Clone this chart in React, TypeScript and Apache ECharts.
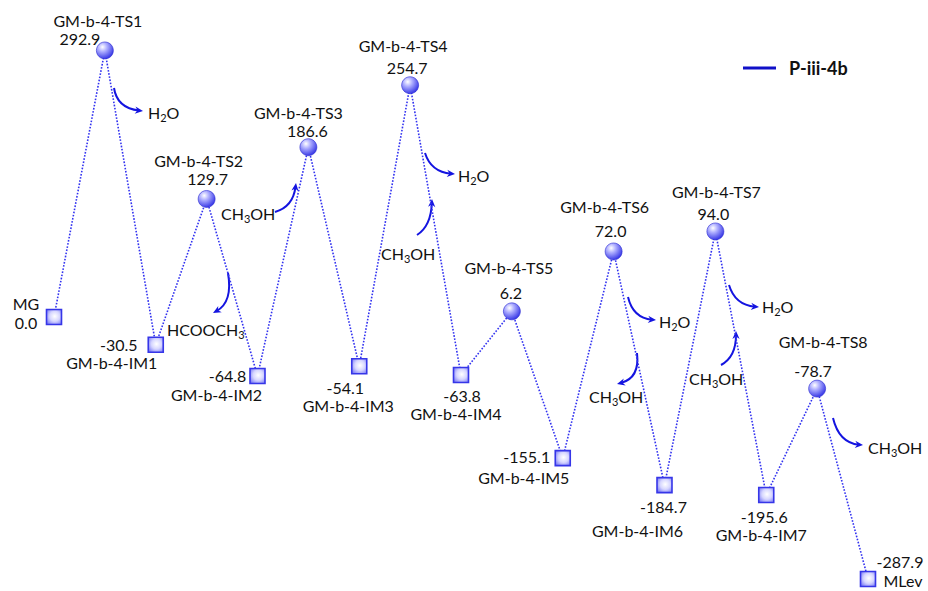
import React, { useEffect, useRef } from "react";
import * as echarts from "echarts";

// Stationary points along the P-iii-4b pathway (kJ/mol)
const stateNames = [
  "MG", "GM-b-4-TS1", "GM-b-4-IM1", "GM-b-4-TS2", "GM-b-4-IM2", "GM-b-4-TS3",
  "GM-b-4-IM3", "GM-b-4-TS4", "GM-b-4-IM4", "GM-b-4-TS5", "GM-b-4-IM5",
  "GM-b-4-TS6", "GM-b-4-IM6", "GM-b-4-TS7", "GM-b-4-IM7", "GM-b-4-TS8", "MLev",
];
const energies = [
  0.0, 292.9, -30.5, 129.7, -64.8, 186.6, -54.1, 254.7, -63.8, 6.2, -155.1,
  72.0, -184.7, 94.0, -195.6, -78.7, -287.9,
];
const seriesName = "P-iii-4b";

// label placement around each marker (px offsets)
const nameOffsets = [
  [-28, -14], [-7, -30], [-44, 18], [-8, -38], [-41, 19], [-10, -35],
  [-11, 39], [-7, -40], [-5, 38], [-3, -44], [-39, 19], [-9, -45],
  [-27, 45], [1, -40], [-5, 40], [6, -47], [35, 2],
];
const valueOffsets = [
  [-28, 5], [-25, -12], [-37, 0], [1, -20], [-30, 0], [-1, -17],
  [-14, 21], [-3, -18], [1, 20], [-1, -19], [-36, -2], [-3, -21],
  [-1, 21], [-2, -18], [-2, 22], [-4, -18], [32, -17],
];

// molecule formulas: [text, isSubscript]
const H2O: [string, boolean][] = [["H", false], ["2", true], ["O", false]];
const CH3OH: [string, boolean][] = [["CH", false], ["3", true], ["OH", false]];
const HCOOCH3: [string, boolean][] = [["HCOOCH", false], ["3", true]];

// released / added molecules with their curved arrows
const arrows = [
  { from: [114, 88], ctrl: [117, 108], to: [143, 111], formula: H2O, tx: 148, ty: 112 },
  { from: [228, 273], ctrl: [233, 302], to: [213, 313], formula: HCOOCH3, tx: 167, ty: 329 },
  { from: [275, 212], ctrl: [293, 207], to: [296, 183], formula: CH3OH, tx: 221, ty: 213 },
  { from: [425, 153], ctrl: [431, 172], to: [455, 174], formula: H2O, tx: 458, ty: 175 },
  { from: [417, 235], ctrl: [431, 226], to: [432, 199], formula: CH3OH, tx: 381, ty: 253 },
  { from: [628, 297], ctrl: [633, 318], to: [656, 320], formula: H2O, tx: 659, ty: 321 },
  { from: [637, 353], ctrl: [640, 378], to: [617, 384], formula: CH3OH, tx: 589, ty: 396 },
  { from: [729, 285], ctrl: [735, 305], to: [759, 307], formula: H2O, tx: 762, ty: 306 },
  { from: [721, 365], ctrl: [736, 357], to: [736, 331], formula: CH3OH, tx: 689, ty: 378 },
  { from: [833, 418], ctrl: [839, 443], to: [863, 445], formula: CH3OH, tx: 868, ty: 447 },
];

const FONT = "Lato";
const MAIN_SIZE = 16;
const SUB_SIZE = 11;
const TEXT_COLOR = "#111111";
const ARROW_COLOR = "#1414e0";

const measureCtx = document.createElement("canvas").getContext("2d");
function textWidth(t: string, size: number) {
  if (!measureCtx) return t.length * size * 0.55;
  measureCtx.font = `${size}px ${FONT}`;
  return measureCtx.measureText(t).width;
}

function formulaGraphics(parts: [string, boolean][], x0: number, yc: number) {
  let x = x0;
  return parts.map(([t, sub]) => {
    const size = sub ? SUB_SIZE : MAIN_SIZE;
    const el = {
      type: "text",
      silent: true,
      x,
      y: sub ? yc + 5 : yc,
      style: {
        text: t,
        fontFamily: FONT,
        fontSize: size,
        fill: TEXT_COLOR,
        align: "left",
        verticalAlign: "middle",
      },
    };
    x += textWidth(t, size);
    return el;
  });
}

function arrowGraphics(a: (typeof arrows)[number]) {
  const [x1, y1] = a.from;
  const [cx, cy] = a.ctrl;
  const [x2, y2] = a.to;
  let dx = x2 - cx;
  let dy = y2 - cy;
  const len = Math.hypot(dx, dy) || 1;
  dx /= len;
  dy /= len;
  const px = -dy;
  const py = dx;
  const L = 8;
  const W = 3.6;
  const bx = x2 - dx * L;
  const by = y2 - dy * L;
  const nx = x2 - dx * (L - 2.5);
  const ny = y2 - dy * (L - 2.5);
  return [
    {
      type: "bezierCurve",
      silent: true,
      shape: { x1, y1, cpx1: cx, cpy1: cy, x2: x2 - dx * 4, y2: y2 - dy * 4 },
      style: { stroke: ARROW_COLOR, lineWidth: 2, fill: null },
    },
    {
      type: "polygon",
      silent: true,
      shape: {
        points: [
          [x2, y2],
          [bx + px * W, by + py * W],
          [nx, ny],
          [bx - px * W, by - py * W],
        ],
      },
      style: { fill: ARROW_COLOR },
    },
    ...formulaGraphics(a.formula, a.tx, a.ty),
  ];
}

const circleFill = {
  type: "radial",
  x: 0.36,
  y: 0.3,
  r: 0.75,
  colorStops: [
    { offset: 0, color: "#ffffff" },
    { offset: 0.35, color: "#b0b0ff" },
    { offset: 1, color: "#2e2ee4" },
  ],
};
const squareFill = {
  type: "radial",
  x: 0.55,
  y: 0.45,
  r: 0.75,
  colorStops: [
    { offset: 0, color: "#ffffff" },
    { offset: 0.45, color: "#d6d6ff" },
    { offset: 1, color: "#6464f4" },
  ],
};

export default function App() {
  const ref = useRef<HTMLDivElement>(null);

  useEffect(() => {
    if (!ref.current) return;
    const chart = echarts.init(ref.current, undefined, { renderer: "svg" });

    const isTS = (n: string) => n.includes("TS");

    const lineData = energies.map((v, i) => {
      const ts = isTS(stateNames[i]);
      return {
        value: [i, v],
        symbol: ts ? "circle" : "rect",
        symbolSize: ts ? 17 : 15,
        itemStyle: ts
          ? { color: circleFill, borderColor: "#2a2ad0", borderWidth: 0.6 }
          : { color: squareFill, borderColor: "#3636e8", borderWidth: 1.6 },
      };
    });

    const labelSeries = (kind: "name" | "value") => ({
      type: "scatter",
      silent: true,
      symbolSize: 0,
      z: 5,
      itemStyle: { opacity: 1 },
      data: energies.map((v, i) => {
        const off = kind === "name" ? nameOffsets[i] : valueOffsets[i];
        return {
          value: [i, v],
          label: {
            show: true,
            position: "inside",
            offset: off,
            align: "center",
            verticalAlign: "middle",
            fontFamily: FONT,
            fontSize: MAIN_SIZE,
            lineHeight: 14,
            color: TEXT_COLOR,
            opacity: 1,
            formatter: kind === "name" ? stateNames[i] : v.toFixed(1),
          },
        };
      }),
    });

    chart.setOption({
      animation: false,
      backgroundColor: "#ffffff",
      grid: { left: 54, right: 60, top: 44, height: 546 },
      xAxis: { type: "value", min: 0, max: 16, show: false },
      yAxis: { type: "value", min: -300, max: 300, show: false },
      legend: {
        left: 738,
        top: 54,
        itemWidth: 33,
        itemHeight: 3,
        data: [{ name: seriesName, icon: "rect", itemStyle: { color: "#1010c8" } }],
        textStyle: {
          fontFamily: FONT,
          fontSize: 18,
          fontWeight: "bold",
          color: "#111111",
          padding: [0, 0, 0, 8],
        },
        selectedMode: false,
      },
      series: [
        {
          name: seriesName,
          type: "line",
          z: 3,
          data: lineData,
          lineStyle: { color: "#3232f0", width: 1.6, type: [1.6, 1.6] },
          itemStyle: { color: "#3232f0" },
        },
        labelSeries("name"),
        labelSeries("value"),
      ],
      graphic: arrows.flatMap(arrowGraphics),
    });

    return () => chart.dispose();
  }, []);

  return (
    <div
      ref={ref}
      style={{ position: "fixed", left: 0, top: 0, width: 928, height: 591, background: "#fff" }}
    />
  );
}
